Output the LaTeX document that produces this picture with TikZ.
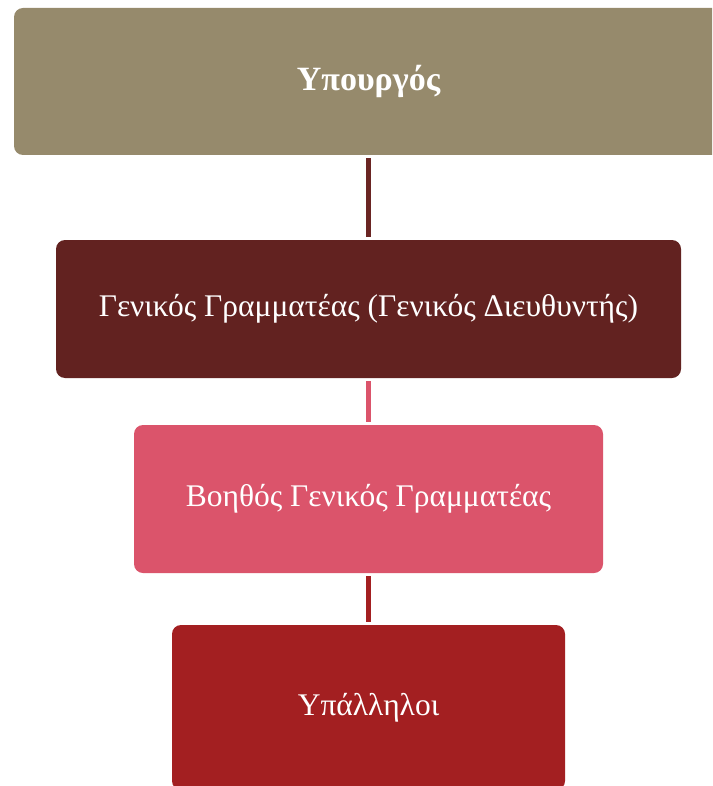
\documentclass[tikz,border=0pt]{standalone}
\usepackage{fontspec}
\setmainfont{Liberation Serif}
\definecolor{khaki}{HTML}{968A6C}
\definecolor{maroon}{HTML}{622220}
\definecolor{maroonline}{HTML}{6A2523}
\definecolor{rose}{HTML}{DB546B}
\definecolor{brick}{HTML}{A31F21}
\begin{document}
\begin{tikzpicture}[x=1pt,y=-1pt]
\tikzset{
  box/.style={rounded corners=9pt, inner sep=0pt, text=white, align=center, font=\fontsize{31.5}{36}\selectfont},
  link/.style={line width=5pt, shorten <=3pt, shorten >=3pt}
}
\useasboundingbox (0,0) rectangle (712,786);
\clip (0,0) rectangle (712,786);
\node[box, fill=khaki, minimum width=709pt, minimum height=147pt, font=\fontsize{34}{38}\selectfont\bfseries] (min) at (368.5,81.5) {Υπουργός};
\node[box, fill=maroon, minimum width=625pt, minimum height=138pt] (gen) at (368.5,309) {Γενικός Γραμματέας (Γενικός Διευθυντής)};
\node[box, fill=rose, minimum width=469pt, minimum height=148pt] (boh) at (368.5,499) {Βοηθός Γενικός Γραμματέας};
\node[box, fill=brick, minimum width=393pt, minimum height=165pt] (ypa) at (368.5,707.5) {Υπάλληλοι};
\draw[link, maroonline] (min.south) -- (gen.north);
\draw[link, rose] (gen.south) -- (boh.north);
\draw[link, brick] (boh.south) -- (ypa.north);
\end{tikzpicture}
\end{document}
